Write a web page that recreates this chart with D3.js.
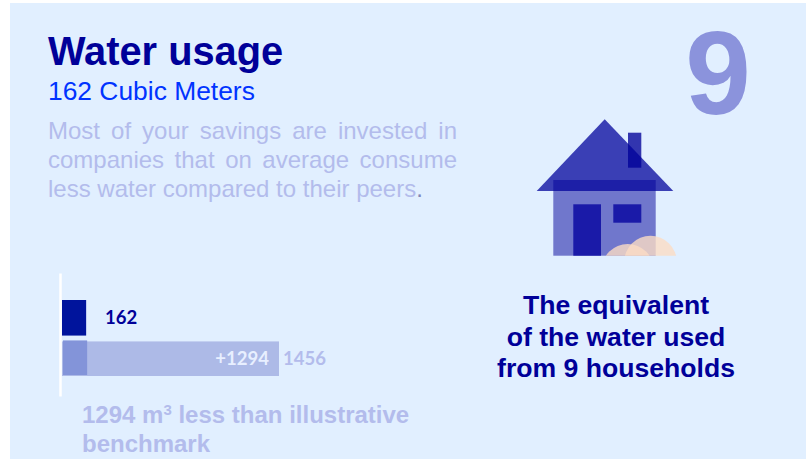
<!DOCTYPE html>
<html>
<head>
<meta charset="utf-8">
<script src="https://cdn.jsdelivr.net/npm/d3@7"></script>
<style>
  html, body { margin: 0; padding: 0; background: #fff; overflow: hidden; }
  text { font-family: "Liberation Sans", Arial, sans-serif; }
  .num { font-family: Lato, "Open Sans", sans-serif; font-weight: 700; font-size: 18.5px; }
</style>
</head>
<body>
<div id="chart"></div>
<script>
// values
var categories = ["yours", "benchmark"];
var yourUsage = 162;
var benchmarkUsage = 1456;
var difference = 1294;
var households = 9;

var descLines = [
  "Most of your savings are invested in",
  "companies that on average consume",
  "less water compared to their peers"
];
var equivLines = ["The equivalent", "of the water used", "from 9 households"];

var width = 806;
var height = 459;

var svg = d3.select("#chart").append("svg")
  .attr("width", width)
  .attr("height", height)
  .style("display", "block");

// panel
svg.append("rect")
  .attr("x", 10).attr("y", 3)
  .attr("width", width - 10).attr("height", height - 3)
  .attr("fill", "#e1efff");

// heading
svg.append("text").attr("x", 48).attr("y", 65)
  .attr("font-size", 39.8).attr("font-weight", 700).attr("fill", "#000099")
  .text("Water usage");
svg.append("text").attr("x", 48).attr("y", 100)
  .attr("font-size", 26.4).attr("fill", "#0033ff")
  .text(yourUsage + " Cubic Meters");

// description, first two lines are justified
var descWidth = 409;
svg.selectAll(".desc")
  .data(descLines)
  .enter().append("text")
  .attr("class", "desc")
  .attr("x", 48)
  .attr("y", function(d, i) { return 139 + i * 29; })
  .attr("font-size", 24)
  .attr("fill", "#b3bcec")
  .text(function(d) { return d; })
  .style("word-spacing", function(d, i) {
    if (i == descLines.length - 1) return null;
    var gaps = d.split(" ").length - 1;
    return (descWidth - this.getComputedTextLength()) / gaps + "px";
  });
// the full stop is darker than the rest of the line
svg.select(".desc:last-of-type").append("tspan")
  .attr("fill", "#7f88b8")
  .text(".");

// big number
svg.append("text")
  .attr("x", 718).attr("y", 114)
  .attr("text-anchor", "middle")
  .attr("font-size", 118).attr("font-weight", 700).attr("fill", "#8b93dc")
  .text(households);

// house icon
var house = svg.append("g");
house.append("clipPath").attr("id", "ground")
  .append("rect").attr("x", 520).attr("y", 100).attr("width", 170).attr("height", 155.7);

house.append("path")
  .attr("d", "M604.7,119.3L673.3,191H536.7Z")
  .attr("fill", "#3a3fb5");
house.append("rect")
  .attr("x", 628).attr("y", 132.7).attr("width", 13.3).attr("height", 35)
  .attr("fill", "#000099").attr("opacity", 0.78);
house.append("rect")
  .attr("x", 553.3).attr("y", 180).attr("width", 102.4).attr("height", 75.7)
  .attr("fill", "#000099").attr("opacity", 0.5);
house.append("rect")
  .attr("x", 573.3).attr("y", 204.3).attr("width", 27.7).attr("height", 51.4)
  .attr("fill", "#1a1aa8");
house.append("rect")
  .attr("x", 613.3).attr("y", 204.3).attr("width", 28).attr("height", 18.4)
  .attr("fill", "#1a1aa8");

var bushes = house.append("g").attr("clip-path", "url(#ground)");
bushes.append("circle")
  .attr("cx", 627.7).attr("cy", 270).attr("r", 26)
  .attr("fill", "#fbdcc4").attr("opacity", 0.8);
bushes.append("circle")
  .attr("cx", 650.5).attr("cy", 262).attr("r", 26.3)
  .attr("fill", "#fbdcc4").attr("opacity", 0.8);

// equivalent text
svg.selectAll(".equiv")
  .data(equivLines)
  .enter().append("text")
  .attr("class", "equiv")
  .attr("x", 616)
  .attr("y", function(d, i) { return 314 + i * 31.5; })
  .attr("text-anchor", "middle")
  .attr("font-size", 26.6).attr("font-weight", 700).attr("fill", "#000099")
  .text(function(d) { return d; });

// bars
var x = d3.scaleLinear().domain([0, benchmarkUsage]).range([62, 279]);
var y = d3.scaleBand().domain(categories).range([300, 376]).paddingInner(0.12);

svg.append("g")
  .attr("transform", "translate(60,0)")
  .call(d3.axisLeft(d3.scaleBand().domain(categories).range([273, 396])).tickSize(0).tickFormat(""))
  .call(function(g) { g.select(".domain").attr("stroke", "#fff").attr("stroke-width", 2.5); });

svg.append("rect")
  .attr("x", x(0)).attr("y", y("benchmark") + 1)
  .attr("width", x(benchmarkUsage) - x(0)).attr("height", y.bandwidth() - 1)
  .attr("fill", "#adbae7");
svg.append("rect")
  .attr("x", x(0) + 1).attr("y", y("benchmark"))
  .attr("width", x(yourUsage) - x(0)).attr("height", y.bandwidth() - 1)
  .attr("fill", "#8394d9");
svg.append("rect")
  .attr("x", x(0)).attr("y", y("yours"))
  .attr("width", x(yourUsage) - x(0)).attr("height", y.bandwidth())
  .attr("fill", "#00149c");

svg.append("text").attr("class", "num")
  .attr("x", 105).attr("y", 324).attr("fill", "#000099")
  .text(yourUsage);
svg.append("text").attr("class", "num")
  .attr("x", 269).attr("y", 365).attr("text-anchor", "end").attr("fill", "#e8efff")
  .text("+" + difference);
svg.append("text").attr("class", "num")
  .attr("x", 283).attr("y", 365).attr("fill", "#b3bcec")
  .text(benchmarkUsage);

// note below the bars
var note = svg.append("text")
  .attr("x", 82).attr("y", 423)
  .attr("font-size", 24).attr("font-weight", 700).attr("fill", "#b3bcec");
note.append("tspan").text(difference + " m");
note.append("tspan").attr("dy", -8).attr("font-size", 15).text("3");
note.append("tspan").attr("dy", 8).text(" less than illustrative");
svg.append("text")
  .attr("x", 82).attr("y", 452)
  .attr("font-size", 24).attr("font-weight", 700).attr("fill", "#b3bcec")
  .text("benchmark");
</script>
</body>
</html>
